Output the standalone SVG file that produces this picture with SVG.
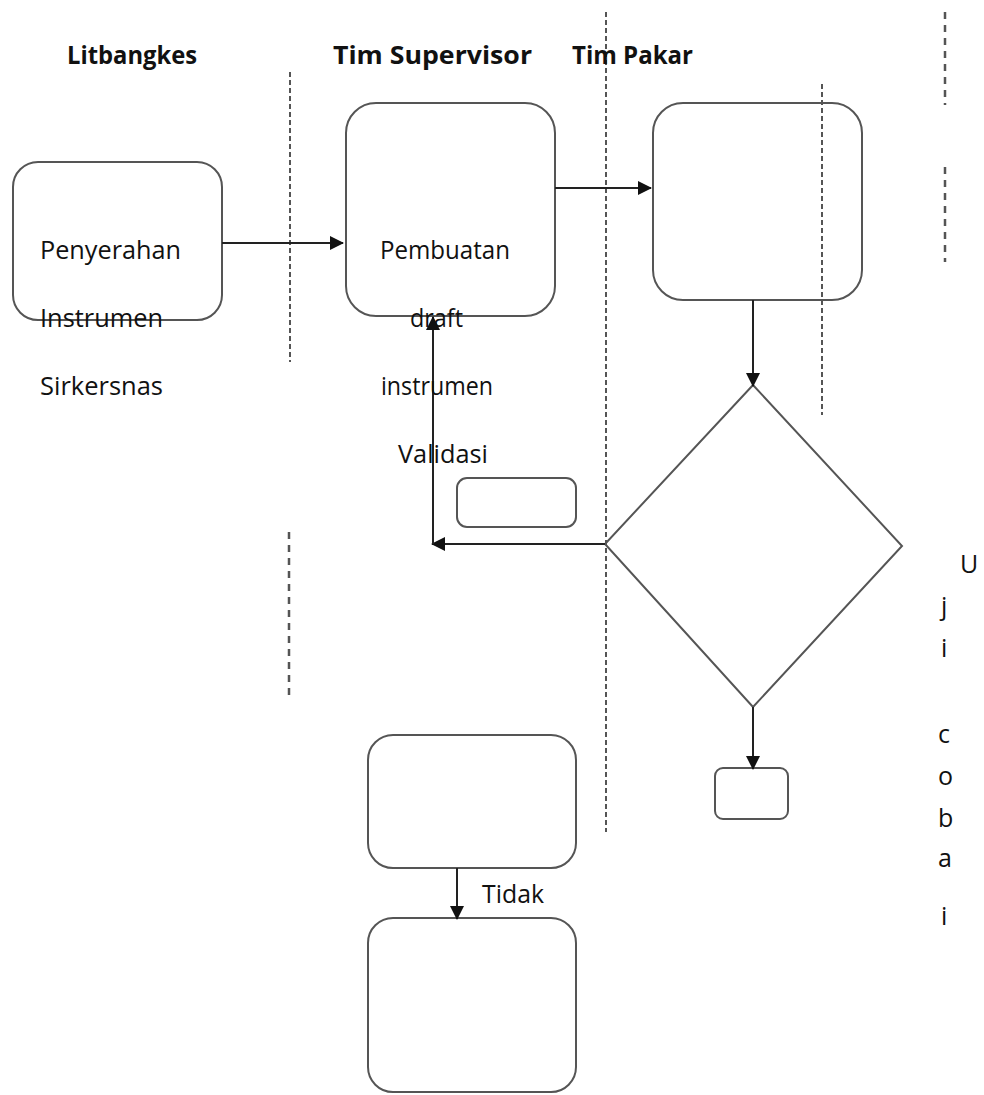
<svg xmlns="http://www.w3.org/2000/svg" width="984" height="1095" viewBox="0 0 984 1095">
<style>
.t{font-family:"Open Sans","Liberation Sans",sans-serif;font-size:25px;fill:#111}
.h{font-family:"Open Sans","Liberation Sans",sans-serif;font-size:25px;font-weight:bold;fill:#111}
.box{fill:none;stroke:#555;stroke-width:2}
.lane{stroke:#555;stroke-width:2;stroke-dasharray:5 3;fill:none}
.lane2{stroke:#555;stroke-width:2.5;stroke-dasharray:7 6;fill:none}
.c{stroke:#222;stroke-width:2;fill:none}
</style>
<defs>
<marker id="ah" markerWidth="14" markerHeight="14" refX="13" refY="7" orient="auto" markerUnits="userSpaceOnUse">
<path d="M0,0 L14,7 L0,14 Z" fill="#111"/>
</marker>
</defs>
<rect width="984" height="1095" fill="#fff"/>
<g id="lanes">
<line class="lane" x1="290" y1="72" x2="290" y2="362"/>
<line class="lane" x1="606" y1="12" x2="606" y2="832"/>
<line class="lane" x1="822" y1="84" x2="822" y2="415"/>
<line class="lane2" x1="945" y1="12" x2="945" y2="105"/>
<line class="lane2" x1="945" y1="167" x2="945" y2="262"/>
<line class="lane2" x1="289" y1="532" x2="289" y2="695"/>
</g>
<g id="headers">
<text class="h" x="67" y="64" textLength="130" lengthAdjust="spacingAndGlyphs">Litbangkes</text>
<text class="h" x="333" y="64" textLength="199" lengthAdjust="spacingAndGlyphs">Tim Supervisor</text>
<text class="h" x="572" y="64" textLength="121" lengthAdjust="spacingAndGlyphs">Tim Pakar</text>
</g>
<g id="nodeA"><rect class="box" x="13" y="162" width="209" height="158" rx="25"/></g>
<g id="nodeB"><rect class="box" x="346" y="103" width="209" height="213" rx="30"/></g>
<g id="nodeC"><rect class="box" x="653" y="103" width="209" height="197" rx="30"/></g>
<g id="decision"><polygon class="box" points="753,385 902,546 753,707 605,544"/></g>
<g id="nodeD"><rect class="box" x="715" y="768" width="73" height="51" rx="8"/></g>
<g id="nodeE"><rect class="box" x="457" y="478" width="119" height="49" rx="10"/></g>
<g id="nodeF"><rect class="box" x="368" y="735" width="208" height="133" rx="25"/></g>
<g id="nodeG"><rect class="box" x="368" y="918" width="208" height="174" rx="25"/></g>
<g id="connectors">
<line class="c" x1="222" y1="243" x2="343" y2="243" marker-end="url(#ah)"/>
<line class="c" x1="555" y1="188" x2="651" y2="188" marker-end="url(#ah)"/>
<line class="c" x1="753" y1="300" x2="753" y2="386" marker-end="url(#ah)"/>
<line class="c" x1="753" y1="707" x2="753" y2="769" marker-end="url(#ah)"/>
<line class="c" x1="605" y1="544" x2="432" y2="544" marker-end="url(#ah)"/>
<line class="c" x1="433" y1="544" x2="433" y2="317" marker-end="url(#ah)"/>
<line class="c" x1="457" y1="868" x2="457" y2="919" marker-end="url(#ah)"/>
</g>
<g id="labels">
<text class="t" x="40" y="259" textLength="141" lengthAdjust="spacingAndGlyphs">Penyerahan</text>
<text class="t" x="40" y="327" textLength="123" lengthAdjust="spacingAndGlyphs">Instrumen</text>
<text class="t" x="40" y="395" textLength="123" lengthAdjust="spacingAndGlyphs">Sirkersnas</text>
<text class="t" x="380" y="259" textLength="130" lengthAdjust="spacingAndGlyphs">Pembuatan</text>
<text class="t" x="410" y="327" textLength="53" lengthAdjust="spacingAndGlyphs">draft</text>
<text class="t" x="381" y="395" textLength="112" lengthAdjust="spacingAndGlyphs">instrumen</text>
<text class="t" x="398" y="463" textLength="90" lengthAdjust="spacingAndGlyphs">Validasi</text>
<text class="t" x="482" y="903" textLength="62" lengthAdjust="spacingAndGlyphs">Tidak</text>
<text class="t" x="960" y="573">U</text>
<text class="t" x="941" y="615">j</text>
<text class="t" x="941" y="657">i</text>
<text class="t" x="938" y="743">c</text>
<text class="t" x="938" y="785">o</text>
<text class="t" x="938" y="827">b</text>
<text class="t" x="938" y="867">a</text>
<text class="t" x="941" y="925">i</text>
</g>
</svg>
